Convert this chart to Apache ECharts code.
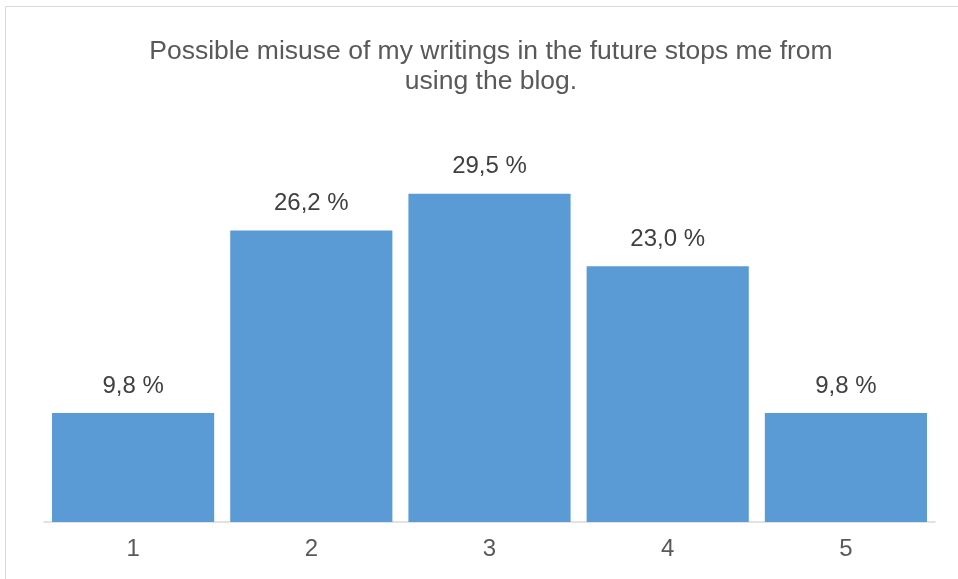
<!DOCTYPE html>
<html>
<head>
<meta charset="utf-8">
<script src="https://cdn.jsdelivr.net/npm/echarts@6/dist/echarts.min.js"></script>
<style>
  html, body { margin: 0; padding: 0; background: #fff; }
  #chart { width: 958px; height: 579px; }
</style>
</head>
<body>
<div id="chart"></div>
<script>
// Survey answers on a 1–5 scale, share of respondents in percent
const categories = ['1', '2', '3', '4', '5'];
const shares = [9.8, 26.2, 29.5, 23.0, 9.8];
const titleText = 'Possible misuse of my writings in the future stops me from\nusing the blog.';

const chart = echarts.init(document.getElementById('chart'), null, { renderer: 'canvas' });
const font = '"Liberation Sans", Arial, sans-serif';

chart.setOption({
  animation: false,
  backgroundColor: '#ffffff',
  graphic: [{
    type: 'rect',
    shape: { x: 5.5, y: 6.5, width: 1200, height: 1200 },
    style: { fill: 'none', stroke: '#d9d9d9', lineWidth: 1 },
    silent: true
  }],
  title: {
    text: titleText,
    left: 486,
    top: 32,
    textAlign: 'center',
    textStyle: {
      fontFamily: font,
      fontSize: 26.5,
      fontWeight: 'normal',
      color: '#595959',
      lineHeight: 30
    }
  },
  grid: { left: 44, right: 23, top: 77, bottom: 57, containLabel: false },
  xAxis: {
    type: 'category',
    data: categories,
    axisLine: { lineStyle: { color: '#d9d9d9', width: 1.5 } },
    axisTick: { show: false },
    axisLabel: {
      fontFamily: font,
      fontSize: 24,
      color: '#595959',
      margin: 15
    }
  },
  yAxis: {
    type: 'value',
    min: 0,
    max: 40,
    show: false,
    splitLine: { show: false }
  },
  series: [{
    type: 'bar',
    data: shares,
    barCategoryGap: '9%',
    itemStyle: { color: '#5b9bd5' },
    label: {
      show: true,
      position: 'top',
      distance: 15,
      fontFamily: font,
      fontSize: 24,
      color: '#404040',
      formatter: p => p.value.toFixed(1).replace('.', ',') + ' %'
    }
  }]
});
</script>
</body>
</html>
